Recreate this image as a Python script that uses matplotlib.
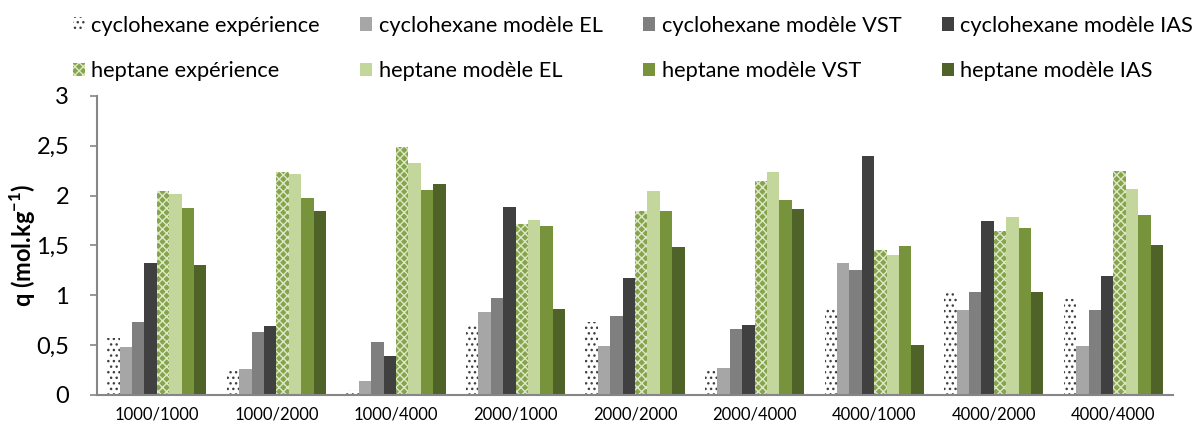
import numpy as np
import matplotlib
matplotlib.use("Agg")
import matplotlib.pyplot as plt
from matplotlib.patches import Patch

plt.rcParams['font.family'] = ['Lato', 'DejaVu Sans']
plt.rcParams['mathtext.fontset'] = 'custom'
plt.rcParams['mathtext.rm'] = 'Lato'
plt.rcParams['mathtext.bf'] = 'Lato:bold'
plt.rcParams['hatch.linewidth'] = 1.0

categories = ['1000/1000', '1000/2000', '1000/4000', '2000/1000', '2000/2000',
              '2000/4000', '4000/1000', '4000/2000', '4000/4000']

cyc_exp = [0.57, 0.24, 0.05, 0.69, 0.73, 0.25, 0.86, 1.02, 0.96]
cyc_el = [0.48, 0.26, 0.14, 0.83, 0.49, 0.27, 1.32, 0.85, 0.49]
cyc_vst = [0.73, 0.63, 0.53, 0.97, 0.79, 0.66, 1.25, 1.03, 0.85]
cyc_ias = [1.32, 0.69, 0.39, 1.89, 1.17, 0.70, 2.40, 1.75, 1.19]
hep_exp = [2.05, 2.24, 2.49, 1.72, 1.85, 2.15, 1.45, 1.64, 2.25]
hep_el = [2.02, 2.22, 2.33, 1.76, 2.05, 2.24, 1.40, 1.79, 2.07]
hep_vst = [1.88, 1.98, 2.06, 1.70, 1.85, 1.96, 1.49, 1.67, 1.81]
hep_ias = [1.30, 1.85, 2.12, 0.86, 1.48, 1.87, 0.50, 1.03, 1.50]

series = [
    ('cyclohexane expérience', cyc_exp, dict(facecolor='white', edgecolor='#404040', hatch='...')),
    ('cyclohexane modèle EL', cyc_el, dict(facecolor='#A6A6A6', edgecolor='#A6A6A6')),
    ('cyclohexane modèle VST', cyc_vst, dict(facecolor='#7F7F7F', edgecolor='#7F7F7F')),
    ('cyclohexane modèle IAS', cyc_ias, dict(facecolor='#404040', edgecolor='#404040')),
    ('heptane expérience', hep_exp, dict(facecolor='#86A44B', edgecolor='#DDE8C8', hatch='xxxx')),
    ('heptane modèle EL', hep_el, dict(facecolor='#C3D69B', edgecolor='#C3D69B')),
    ('heptane modèle VST', hep_vst, dict(facecolor='#77933C', edgecolor='#77933C')),
    ('heptane modèle IAS', hep_ias, dict(facecolor='#4F6228', edgecolor='#4F6228')),
]

fig = plt.figure(figsize=(12.02, 4.30), dpi=100)
ax = fig.add_axes([0.0807, 0.0814, 0.8953, 0.6956])

x = np.arange(len(categories))
n = len(series)
group_w = 0.83
bw = group_w / n
handles = []
for i, (label, vals, style) in enumerate(series):
    pos = x - group_w / 2 + bw * (i + 0.5)
    ax.bar(pos, vals, width=bw, linewidth=0, **style)
    handles.append(Patch(linewidth=0, label=label, **style))

ax.set_xlim(-0.5, len(categories) - 0.5)
ax.set_ylim(0, 3)
ax.set_yticks([0, 0.5, 1, 1.5, 2, 2.5, 3])
ax.set_yticklabels(['0', '0,5', '1', '1,5', '2', '2,5', '3'], fontsize=17)
ax.set_xticks(x)
ax.set_xticklabels(categories, fontsize=12)
ax.tick_params(axis='x', length=0, pad=8)
ax.tick_params(axis='y', length=5, width=1.2, color='#868686', pad=15)
for s in ['top', 'right']:
    ax.spines[s].set_visible(False)
for s in ['left', 'bottom']:
    ax.spines[s].set_color('#868686')
    ax.spines[s].set_linewidth(1.5)

ax.set_ylabel('q (mol.kg$^{\\mathbf{-1}}$)', fontsize=17, fontweight='bold')
ax.yaxis.set_label_coords(-0.055, 0.5)

# legend: cyclohexane series on the first row, heptane on the second
order = [0, 4, 1, 5, 2, 6, 3, 7]
fig.legend([handles[k] for k in order], [series[k][0] for k in order],
           ncol=4, loc='upper left', bbox_to_anchor=(0.048, 0.999),
           frameon=False, fontsize=15.7, handlelength=0.55, handleheight=0.55,
           handletextpad=0.3, columnspacing=1.85, labelspacing=1.16,
           borderaxespad=0.3)

fig.savefig('out.png', dpi=100)
